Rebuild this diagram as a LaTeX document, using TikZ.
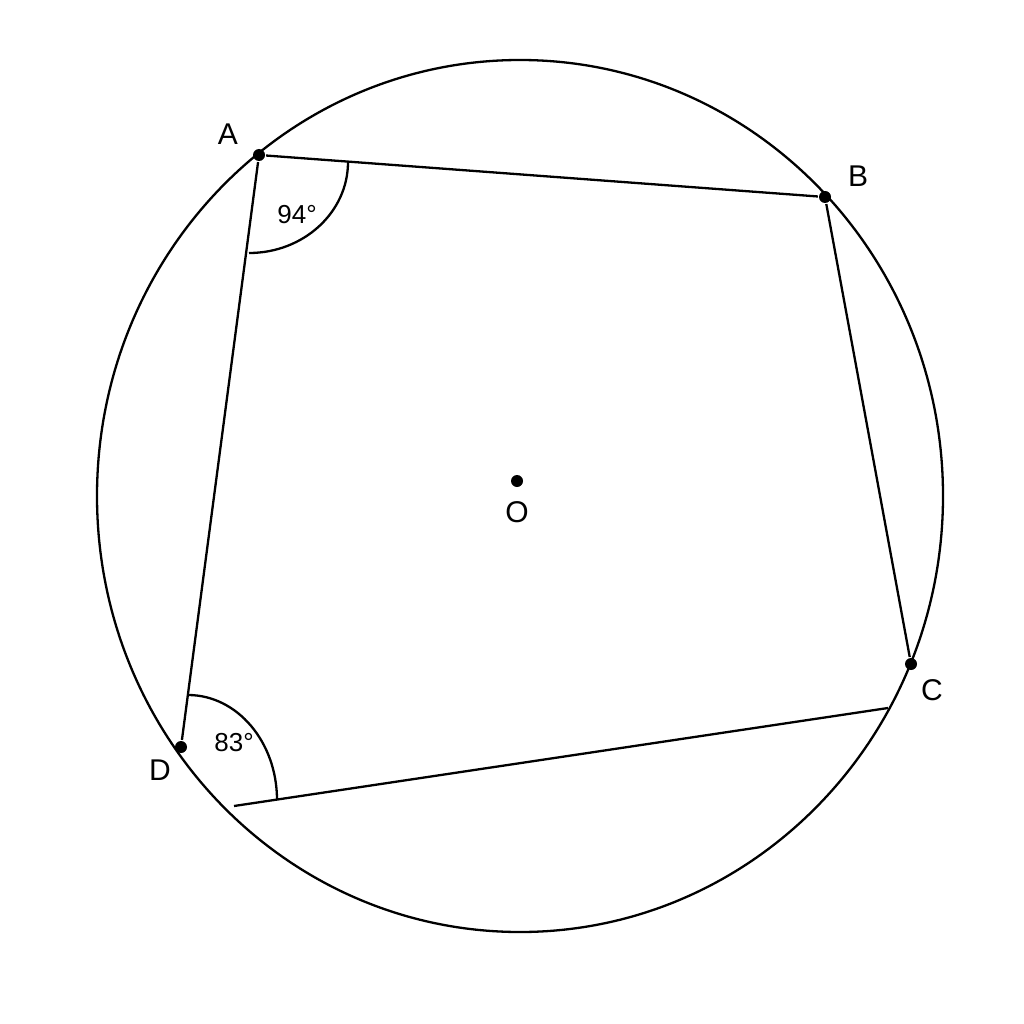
\documentclass[tikz,border=0pt]{standalone}
\usepackage{fontspec}
\setmainfont{Liberation Sans}
\usetikzlibrary{positioning}
\tikzset{
    pt/.style = {circle, fill=black, inner sep=0pt, minimum size=12pt},
    lbl/.style = {font=\fontsize{30}{30}\selectfont, inner sep=0pt},
    ang/.style = {font=\fontsize{26}{26}\selectfont, inner sep=0pt},
    side/.style = {draw, line width=2.3pt}
}
\begin{document}
\begin{tikzpicture}[x=1pt,y=-1pt,line width=2.3pt]
        \useasboundingbox (0,0) rectangle (1024,1024);
        \draw (520,496) ellipse [x radius=423, y radius=436];
        \node [pt] (A) at (259,155) {};
        \node [pt] (B) at (825,197) {};
        \node [pt] (C) at (911,664) {};
        \node [pt] (D) at (181,747) {};
        \node [pt] (O) at (517,481) {};
        \coordinate (dd) at (234,806);
        \coordinate (cc) at (888,708);
        \path [side] (A) -- (B);
        \path [side] (B) -- (C);
        \path [side] (A) -- (D);
        \path [side] (dd) -- (cc);
        % angle marks
        \draw (348,162) arc [start angle=0, end angle=90, x radius=99, y radius=91];
        \draw (188,695) arc [start angle=-90, end angle=0, x radius=89, y radius=105];
        \node [ang] (a94) at (297,215) {94°};
        \node [ang] (a83) at (234,743) {83°};
        % labels
        \node [lbl] (lA) at (228,134) {A};
        \node [lbl] (lB) at (858,176) {B};
        \node [lbl] (lC) at (932,690) {C};
        \node [lbl] (lD) at (160,770) {D};
        \node [lbl] (lO) at (517,512) {O};
    \end{tikzpicture}
\end{document}
